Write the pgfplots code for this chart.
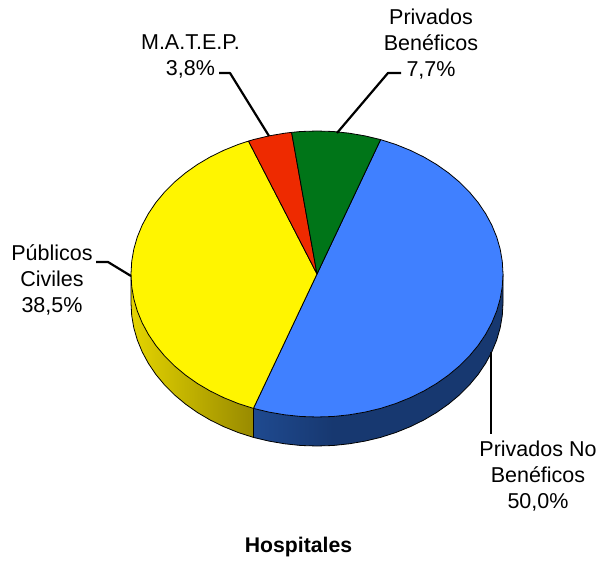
\documentclass[border=0pt]{standalone}
\usepackage{pgfplots}
\pgfplotsset{compat=1.18}
\usepackage{fontspec}
\setmainfont{Liberation Sans}
\definecolor{pblue}{HTML}{4080FF}
\definecolor{pyellow}{HTML}{FFF500}
\definecolor{pred}{HTML}{EE2A00}
\definecolor{pgreen}{HTML}{007518}
\definecolor{sblueL}{HTML}{1F4A90}
\definecolor{sblue}{HTML}{173870}
\definecolor{syellowL}{HTML}{E4D400}
\definecolor{syellowR}{HTML}{988A00}
\begin{document}
\begin{tikzpicture}[x=1pt,y=1pt]
\path[use as bounding box] (0,0) rectangle (603,564);
\begin{axis}[
  at={(0,0)}, anchor=south west,
  scale only axis, width=603pt, height=564pt,
  xmin=0, xmax=603, ymin=0, ymax=564,
  y dir=reverse, hide axis, clip=false,
  every axis plot/.append style={line join=round},
]
% side wall, yellow
\addplot[draw=none, left color=syellowL, right color=syellowR] coordinates {
  (131,274) (131.7,286.5) (133.8,298.8) (137.3,311) (142.2,322.9) (148.4,334.4) (155.9,345.5)
  (164.6,356) (174.5,365.9) (185.5,375.1) (197.4,383.5) (210.3,391.1) (224,397.8) (238.4,403.6) (253.4,408.4)
  (253.4,437.4) (238.4,432.6) (224,426.8) (210.3,420.1) (197.4,412.5) (185.5,404.1) (174.5,394.9) (164.6,385)
  (155.9,374.5) (148.4,363.4) (142.2,351.9) (137.3,340) (133.8,327.8) (131.7,315.5) (131,303)
} -- cycle;
% side wall, blue: gradient part then flat part
\addplot[draw=none, left color=sblueL, right color=sblue] coordinates {
  (253.4,408.4) (268.9,412.1) (284.7,414.8) (300.8,416.5) (317,417) (333.2,416.5)
  (333.2,445.5) (317,446) (300.8,445.5) (284.7,443.8) (268.9,441.1) (253.4,437.4)
} -- cycle;
\addplot[draw=none, fill=sblue] coordinates {
  (333.2,416.5) (349.3,414.8) (365.1,412.1) (380.6,408.4) (395.6,403.6) (410,397.8) (423.7,391.1) (436.6,383.5)
  (448.5,375.1) (459.5,365.9) (469.4,356) (478.1,345.5) (485.6,334.4) (491.8,322.9) (496.7,311) (500.2,298.8)
  (502.3,286.5) (503,274) (503,303) (502.3,315.5) (500.2,327.8) (496.7,340) (491.8,351.9) (485.6,363.4)
  (478.1,374.5) (469.4,385) (459.5,394.9) (448.5,404.1) (436.6,412.5) (423.7,420.1) (410,426.8) (395.6,432.6)
  (380.6,437.4) (365.1,441.1) (349.3,443.8) (333.2,445.5)
} -- cycle;
% side wall outline
\addplot[black, line width=0.8pt] coordinates {
  (131,274) (131,303) (131.7,315.5) (133.8,327.8) (137.3,340) (142.2,351.9) (148.4,363.4) (155.9,374.5)
  (164.6,385) (174.5,394.9) (185.5,404.1) (197.4,412.5) (210.3,420.1) (224,426.8) (238.4,432.6) (253.4,437.4)
  (268.9,441.1) (284.7,443.8) (300.8,445.5) (317,446) (333.2,445.5) (349.3,443.8) (365.1,441.1) (380.6,437.4)
  (395.6,432.6) (410,426.8) (423.7,420.1) (436.6,412.5) (448.5,404.1) (459.5,394.9) (469.4,385) (478.1,374.5)
  (485.6,363.4) (491.8,351.9) (496.7,340) (500.2,327.8) (502.3,315.5) (503,303) (503,274)
};
\addplot[black, line width=0.8pt] coordinates {(253.4,408.4) (253.4,437.4)};
% top: Privados No Beneficos 50,0
\addplot[draw=black, line width=0.8pt, fill=pblue] coordinates {
  (317,274) (380.6,139.6) (395.6,144.4) (410,150.2) (423.7,156.9) (436.6,164.5) (448.5,172.9) (459.5,182.1)
  (469.4,192) (478.1,202.5) (485.6,213.6) (491.8,225.1) (496.7,237) (500.2,249.2) (502.3,261.5) (503,274)
  (502.3,286.5) (500.2,298.8) (496.7,311) (491.8,322.9) (485.6,334.4) (478.1,345.5) (469.4,356) (459.5,365.9)
  (448.5,375.1) (436.6,383.5) (423.7,391.1) (410,397.8) (395.6,403.6) (380.6,408.4) (365.1,412.1) (349.3,414.8)
  (333.2,416.5) (317,417) (300.8,416.5) (284.7,414.8) (268.9,412.1) (253.4,408.4)
} -- cycle;
% top: Publicos Civiles 38,5
\addplot[draw=black, line width=0.8pt, fill=pyellow] coordinates {
  (317,274) (253.4,408.4) (238.4,403.6) (224,397.8) (210.3,391.1) (197.4,383.5) (185.5,375.1) (174.5,365.9)
  (164.6,356) (155.9,345.5) (148.4,334.4) (142.2,322.9) (137.3,311) (133.8,298.8) (131.7,286.5) (131,274)
  (131.7,261.5) (133.8,249.2) (137.3,237) (142.2,225.1) (148.4,213.6) (155.9,202.5) (164.6,192) (174.5,182.1)
  (185.5,172.9) (197.4,164.5) (210.3,156.9) (224,150.2) (238.4,144.4) (248.5,141.1)
} -- cycle;
% top: M.A.T.E.P. 3,8
\addplot[draw=black, line width=0.8pt, fill=pred] coordinates {
  (317,274) (248.5,141.1) (253.4,139.6) (268.9,135.9) (284.7,133.2) (291.6,132.4)
} -- cycle;
% top: Privados Beneficos 7,7
\addplot[draw=black, line width=0.8pt, fill=pgreen] coordinates {
  (317,274) (291.6,132.4) (300.8,131.5) (317,131) (333.2,131.5) (349.3,133.2) (365.1,135.9) (380.6,139.6)
} -- cycle;
% leader lines
\addplot[black, line width=2.2pt] coordinates {(219,73) (230,73) (269,136)};
\addplot[black, line width=2.2pt] coordinates {(401,73) (388,73) (337,133)};
\addplot[black, line width=2.2pt] coordinates {(96,262) (108,262) (131,276)};
\addplot[black, line width=2.2pt] coordinates {(491,352) (491,434)};
% labels
\begin{scope}[every node/.style={align=center, inner sep=0pt, font=\fontsize{21.5}{26}\selectfont, text=black}]
\node at (axis cs:190.5,56.5) {M.A.T.E.P.\\3,8\%};
\node at (axis cs:431,44) {Privados\\Benéficos\\7,7\%};
\node at (axis cs:52,280) {Públicos\\Civiles\\38,5\%};
\node at (axis cs:538,476) {Privados No\\Benéficos\\50,0\%};
\end{scope}
\node[font=\fontsize{21.2}{25}\selectfont\bfseries, inner sep=0pt] at (axis cs:298.5,547) {Hospitales};
\end{axis}
\end{tikzpicture}
\end{document}
